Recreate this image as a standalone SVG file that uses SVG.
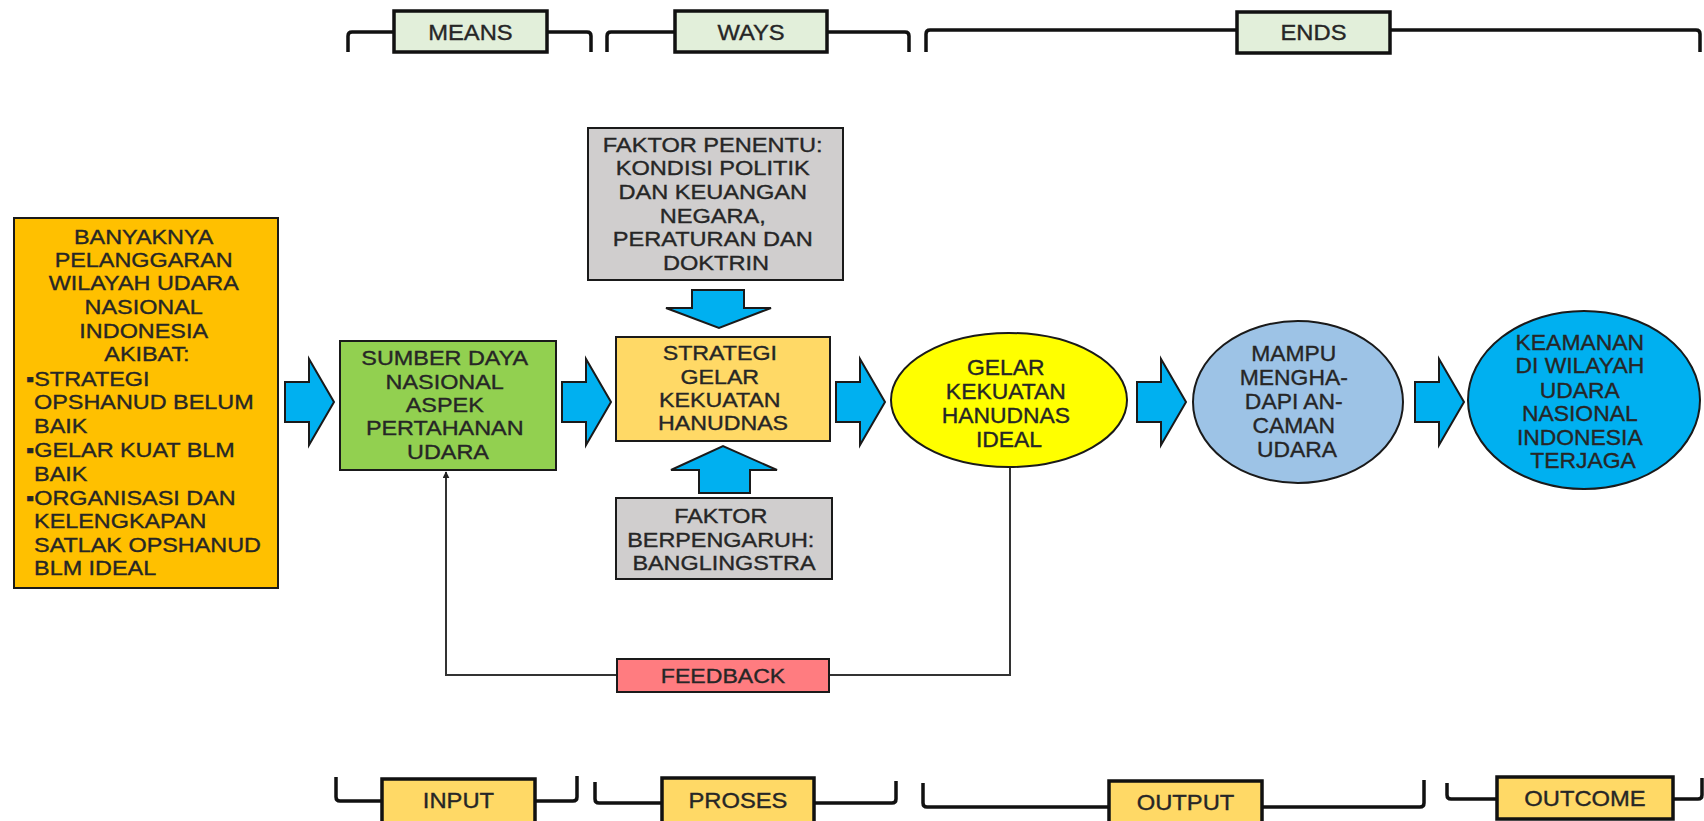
<svg xmlns="http://www.w3.org/2000/svg" width="1704" height="821" viewBox="0 0 1704 821">
<defs>
<style>
.t{font-family:"Liberation Sans",Arial,sans-serif;fill:#262626;stroke:#262626;stroke-width:0.35;}
.f20{font-size:20px;}
.f21{font-size:21px;}
.f22{font-size:22px;}
.box{stroke:#1a1a1a;stroke-width:2;}
.lbl{stroke:#111;stroke-width:3.5;}
.br{fill:none;stroke:#111;stroke-width:3.5;}
.ar{fill:#00B0F0;stroke:#1a1a1a;stroke-width:2;stroke-linejoin:miter;}
.fb{fill:none;stroke:#333;stroke-width:2;}
</style>
<marker id="ah" viewBox="0 0 10 10" refX="9" refY="5" markerWidth="7" markerHeight="7" orient="auto" markerUnits="userSpaceOnUse">
<path d="M0,0 L10,5 L0,10 z" fill="#222"/>
</marker>
</defs>
<rect width="1704" height="821" fill="#ffffff"/>

<!-- top brackets -->
<g id="means">
<path class="br" d="M348,52 L348,36 Q348,32 352,32 L394,32 M547,32 L587,32 Q591,32 591,36 L591,52"/>
<rect class="lbl" x="394" y="11" width="153" height="41" fill="#E2EFDA"/>
<text class="t f22" transform="scale(1.08,1)" x="435.6" y="40" text-anchor="middle">MEANS</text>
</g>
<g id="ways">
<path class="br" d="M607,52 L607,36 Q607,32 611,32 L675,32 M827,32 L905,32 Q909,32 909,36 L909,52"/>
<rect class="lbl" x="675" y="11" width="152" height="41" fill="#E2EFDA"/>
<text class="t f22" transform="scale(1.08,1)" x="695.4" y="40" text-anchor="middle">WAYS</text>
</g>
<g id="ends">
<path class="br" d="M926,52 L926,34 Q926,30 930,30 L1237,30 M1390,30 L1696,30 Q1700,30 1700,34 L1700,52"/>
<rect class="lbl" x="1237" y="12" width="153" height="41" fill="#E2EFDA"/>
<text class="t f22" transform="scale(1.08,1)" x="1216.2" y="40" text-anchor="middle">ENDS</text>
</g>

<!-- bottom brackets -->
<g id="input">
<path class="br" d="M336,777 L336,797 Q336,801 340,801 L382,801 M535,801 L573,801 Q577,801 577,797 L577,776"/>
<rect class="lbl" x="382" y="779" width="153" height="50" fill="#FFD966"/>
<text class="t f22" transform="scale(1.08,1)" x="424.5" y="808" text-anchor="middle">INPUT</text>
</g>
<g id="proses">
<path class="br" d="M595,782 L595,799 Q595,803 599,803 L662,803 M814,803 L892,803 Q896,803 896,799 L896,781"/>
<rect class="lbl" x="662" y="778" width="152" height="50" fill="#FFD966"/>
<text class="t f22" transform="scale(1.08,1)" x="683.3" y="808" text-anchor="middle">PROSES</text>
</g>
<g id="output">
<path class="br" d="M923,783 L923,803 Q923,807 927,807 L1109,807 M1262,807 L1420,807 Q1424,807 1424,803 L1424,780"/>
<rect class="lbl" x="1109" y="781" width="153" height="50" fill="#FFD966"/>
<text class="t f22" transform="scale(1.08,1)" x="1097.7" y="810" text-anchor="middle">OUTPUT</text>
</g>
<g id="outcome">
<path class="br" d="M1447,783 L1447,795 Q1447,799 1451,799 L1497,799 M1673,799 L1698,799 Q1702,799 1702,795 L1702,778"/>
<rect class="lbl" x="1497" y="777" width="176" height="42" fill="#FFD966"/>
<text class="t f22" transform="scale(1.08,1)" x="1467.6" y="806" text-anchor="middle">OUTCOME</text>
</g>

<!-- connectors -->
<g id="connectors">
<polygon class="ar" points="285,382 309,382 309,359 334,402 309,445 309,422 285,422"/>
<polygon class="ar" points="562,382 586,382 586,359 611,402 586,445 586,422 562,422"/>
<polygon class="ar" points="836,382 860,382 860,359 885,402 860,445 860,422 836,422"/>
<polygon class="ar" points="1137,382 1161,382 1161,359 1186,402 1161,445 1161,422 1137,422"/>
<polygon class="ar" points="1415,382 1439,382 1439,359 1464,402 1439,445 1439,422 1415,422"/>
<polygon class="ar" points="692,290 744,290 744,308 771,308 719,328 666,308 692,308"/>
<polygon class="ar" points="699,493 750,493 750,470 777,470 723,446 671,470 699,470"/>
<path class="fb" d="M1010,467 L1010,675 L829,675"/>
<path class="fb" d="M617,675 L446,675 L446,472" marker-end="url(#ah)"/>
</g>

<!-- nodes -->
<g id="problem">
<rect class="box" x="14" y="218" width="264" height="370" fill="#FFC000"/>
<text class="t f20" transform="scale(1.17,1)" text-anchor="middle">
<tspan x="125.6" y="244">BANYAKNYA</tspan>
<tspan x="125.6" y="267">PELANGGARAN</tspan>
<tspan x="125.6" y="290">WILAYAH UDARA</tspan>
<tspan x="125.6" y="314">NASIONAL</tspan>
<tspan x="125.6" y="338">INDONESIA</tspan>
<tspan x="125.6" y="361">AKIBAT:</tspan>
</text>
<text class="t f20" transform="scale(1.17,1)">
<tspan x="22.2" y="386">▪STRATEGI</tspan>
<tspan x="29.1" y="409">OPSHANUD BELUM</tspan>
<tspan x="29.1" y="433">BAIK</tspan>
<tspan x="22.2" y="457">▪GELAR KUAT BLM</tspan>
<tspan x="29.1" y="481">BAIK</tspan>
<tspan x="22.2" y="505">▪ORGANISASI DAN</tspan>
<tspan x="29.1" y="528">KELENGKAPAN</tspan>
<tspan x="29.1" y="552">SATLAK OPSHANUD</tspan>
<tspan x="29.1" y="575">BLM IDEAL</tspan>
</text>
</g>

<g id="sumber-daya">
<rect class="box" x="340" y="341" width="216" height="129" fill="#92D050"/>
<text class="t f20" transform="scale(1.17,1)" text-anchor="middle">
<tspan x="382.9" y="365">SUMBER DAYA</tspan>
<tspan x="382.9" y="389">NASIONAL</tspan>
<tspan x="382.9" y="412">ASPEK</tspan>
<tspan x="382.9" y="435">PERTAHANAN</tspan>
<tspan x="382.9" y="459">UDARA</tspan>
</text>
</g>

<g id="faktor-penentu">
<rect class="box" x="588" y="128" width="255" height="152" fill="#D0CECE"/>
<text class="t f20" transform="scale(1.18,1)" text-anchor="middle">
<tspan x="606.8" y="152">FAKTOR PENENTU:</tspan>
<tspan x="606.8" y="175">KONDISI POLITIK</tspan>
<tspan x="606.8" y="199">DAN KEUANGAN</tspan>
<tspan x="606.8" y="223">NEGARA,</tspan>
<tspan x="606.8" y="246">PERATURAN DAN</tspan>
<tspan x="606.8" y="270">DOKTRIN</tspan>
</text>
</g>

<g id="strategi">
<rect class="box" x="616" y="337" width="214" height="104" fill="#FFD966"/>
<text class="t f20" transform="scale(1.16,1)" text-anchor="middle">
<tspan x="623.3" y="360">STRATEGI</tspan>
<tspan x="623.3" y="384">GELAR</tspan>
<tspan x="623.3" y="407">KEKUATAN</tspan>
<tspan x="623.3" y="430">HANUDNAS</tspan>
</text>
</g>

<g id="faktor-berpengaruh">
<rect class="box" x="616" y="498" width="216" height="81" fill="#D0CECE"/>
<text class="t f20" transform="scale(1.17,1)" text-anchor="middle">
<tspan x="618.8" y="523">FAKTOR</tspan>
<tspan x="618.8" y="547">BERPENGARUH:</tspan>
<tspan x="618.8" y="570">BANGLINGSTRA</tspan>
</text>
</g>

<g id="gelar-ideal">
<ellipse class="box" cx="1009" cy="400" rx="118" ry="67" fill="#FFFF00"/>
<text class="t f22" transform="scale(1.04,1)" text-anchor="middle">
<tspan x="970.2" y="375">GELAR</tspan>
<tspan x="970.2" y="399">KEKUATAN</tspan>
<tspan x="970.2" y="423">HANUDNAS</tspan>
<tspan x="970.2" y="447">IDEAL</tspan>
</text>
</g>

<g id="mampu">
<ellipse class="box" cx="1298" cy="402" rx="105" ry="81" fill="#9DC3E6"/>
<text class="t f22" transform="scale(1.04,1)" text-anchor="middle">
<tspan x="1247.1" y="361">MAMPU</tspan>
<tspan x="1247.1" y="385">MENGHA-</tspan>
<tspan x="1247.1" y="409">DAPI AN-</tspan>
<tspan x="1247.1" y="433">CAMAN</tspan>
<tspan x="1247.1" y="457">UDARA</tspan>
</text>
</g>

<g id="keamanan">
<ellipse class="box" cx="1584" cy="400" rx="116" ry="89" fill="#00B0F0"/>
<text class="t f22" transform="scale(1.04,1)" text-anchor="middle">
<tspan x="1522.1" y="350">KEAMANAN</tspan>
<tspan x="1522.1" y="373">DI WILAYAH</tspan>
<tspan x="1522.1" y="398">UDARA</tspan>
<tspan x="1522.1" y="421">NASIONAL</tspan>
<tspan x="1522.1" y="445">INDONESIA</tspan>
<tspan x="1522.1" y="468">TERJAGA</tspan>
</text>
</g>

<g id="feedback">
<rect class="box" x="617" y="659" width="212" height="33" fill="#FF7C80"/>
<text class="t f21" transform="scale(1.1,1)" x="657.3" y="683" text-anchor="middle">FEEDBACK</text>
</g>
</svg>
